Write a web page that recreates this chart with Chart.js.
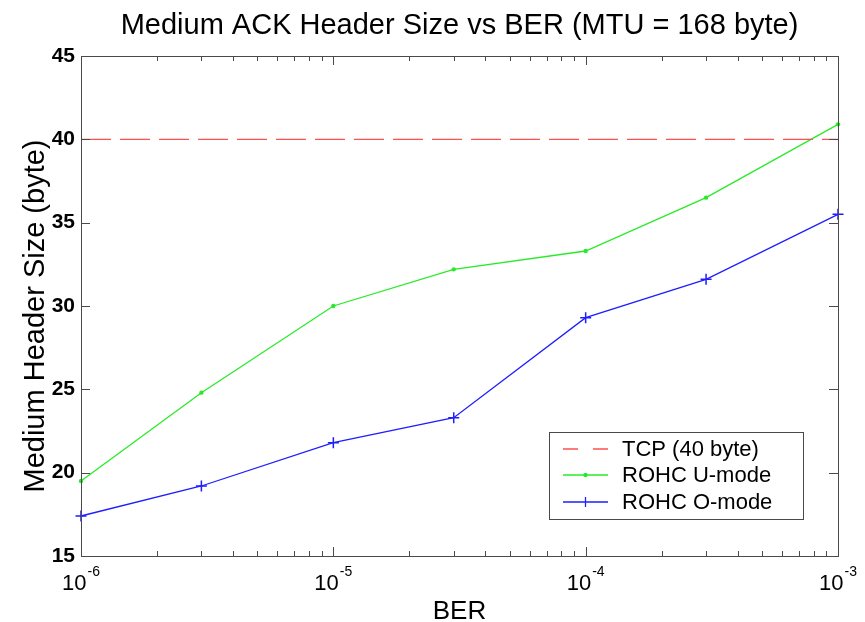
<!DOCTYPE html>
<html>
<head>
<meta charset="utf-8">
<script src="https://cdn.jsdelivr.net/npm/chart.js@4"></script>
<style>
  html, body { margin: 0; padding: 0; background: #fff; }
  #wrap { width: 865px; height: 622px; position: relative; }
</style>
</head>
<body>
<div id="wrap"><canvas id="c"></canvas></div>
<script>
const titleText = 'Medium ACK Header Size vs BER (MTU = 168 byte)';
const xTitle = 'BER';
const yTitle = 'Medium Header Size (byte)';
const ber = [1e-6, 3e-6, 1e-5, 3e-5, 1e-4, 3e-4, 1e-3];
const tcpValues = [40, 40, 40, 40, 40, 40, 40];
const uModeValues = [19.5, 24.8, 30.0, 32.2, 33.3, 36.5, 40.9];
const oModeValues = [17.4, 19.2, 21.8, 23.3, 29.3, 31.6, 35.5];
const seriesNames = ['TCP (40 byte)', 'ROHC U-mode', 'ROHC O-mode'];
const xDecades = [1e-6, 1e-5, 1e-4, 1e-3];
const xExponents = ['-6', '-5', '-4', '-3'];
const yTicks = [15, 20, 25, 30, 35, 40, 45];

const FONT = "'Liberation Sans', Arial, Helvetica, sans-serif";
const RED = 'rgb(255,80,80)';
const GREEN = 'rgb(40,235,40)';
const BLUE = 'rgb(30,30,255)';
const AXIS = '#4a4a4a';

const pts = (vals) => ber.map((b, i) => ({ x: b, y: vals[i] }));

const decor = {
  id: 'decor',
  afterDatasetsDraw(chart) {
    const { ctx, chartArea: a, scales } = chart;
    const xs = scales.x, ys = scales.y;
    ctx.save();
    ctx.strokeStyle = AXIS;
    ctx.lineWidth = 1;
    ctx.strokeRect(Math.round(a.left) + 0.5, Math.round(a.top) + 0.5,
                   Math.round(a.right - a.left), Math.round(a.bottom - a.top));
    yTicks.forEach(v => {
      const y = Math.round(ys.getPixelForValue(v)) + 0.5;
      ctx.beginPath();
      ctx.moveTo(a.left, y); ctx.lineTo(a.left + 9, y);
      ctx.moveTo(a.right, y); ctx.lineTo(a.right - 9, y);
      ctx.stroke();
    });
    for (let d = 0; d < xDecades.length; d++) {
      const base = xDecades[d];
      for (let k = 1; k <= 9; k++) {
        const v = base * k;
        if (v > xDecades[xDecades.length - 1] * 1.0001) break;
        const len = k === 1 ? 9 : 5;
        const x = Math.round(xs.getPixelForValue(v)) + 0.5;
        ctx.beginPath();
        ctx.moveTo(x, a.bottom); ctx.lineTo(x, a.bottom - len);
        ctx.moveTo(x, a.top); ctx.lineTo(x, a.top + len);
        ctx.stroke();
      }
    }
    ctx.restore();
  },
  afterDraw(chart) {
    const { ctx, chartArea: a, scales } = chart;
    const xs = scales.x;
    ctx.save();
    ctx.fillStyle = '#000';
    ctx.font = '29px ' + FONT;
    ctx.textAlign = 'center';
    ctx.textBaseline = 'alphabetic';
    ctx.fillText(titleText, (a.left + a.right) / 2, 34);
    ctx.font = '26px ' + FONT;
    ctx.fillText(xTitle, (a.left + a.right) / 2, 619);
    ctx.save();
    ctx.translate(44, 316);
    ctx.rotate(-Math.PI / 2);
    ctx.font = '29px ' + FONT;
    ctx.textAlign = 'center';
    ctx.fillText(yTitle, 0, 0);
    ctx.restore();
    xDecades.forEach((v, i) => {
      const x = xs.getPixelForValue(v);
      ctx.font = '22px ' + FONT;
      const w1 = ctx.measureText('10').width;
      ctx.font = '14px ' + FONT;
      const w2 = ctx.measureText(xExponents[i]).width;
      const start = x - (w1 + w2 + 1) / 2;
      ctx.textAlign = 'left';
      ctx.font = '22px ' + FONT;
      ctx.fillText('10', start, 590);
      ctx.font = '14px ' + FONT;
      ctx.fillText(xExponents[i], start + w1 + 1, 576);
    });
    const lx = 549, ly = 432, lw = 254, lh = 87;
    ctx.fillStyle = '#fff';
    ctx.fillRect(lx, ly, lw, lh);
    ctx.strokeStyle = AXIS;
    ctx.lineWidth = 1;
    ctx.strokeRect(lx + 0.5, ly + 0.5, lw, lh);
    const rows = [449, 475, 502];
    const colors = [RED, GREEN, BLUE];
    rows.forEach((ry, i) => {
      ctx.strokeStyle = colors[i];
      ctx.lineWidth = 1.3;
      ctx.beginPath();
      if (i === 0) ctx.setLineDash([15, 15]); else ctx.setLineDash([]);
      ctx.moveTo(563, ry); ctx.lineTo(608, ry);
      ctx.stroke();
      ctx.setLineDash([]);
      if (i === 1) {
        ctx.fillStyle = GREEN;
        ctx.beginPath(); ctx.arc(585.5, ry, 2.2, 0, Math.PI * 2); ctx.fill();
      }
      if (i === 2) {
        ctx.beginPath();
        ctx.moveTo(585.5, ry - 5); ctx.lineTo(585.5, ry + 5);
        ctx.stroke();
      }
      ctx.fillStyle = '#000';
      ctx.font = '22px ' + FONT;
      ctx.textAlign = 'left';
      ctx.textBaseline = 'middle';
      ctx.fillText(seriesNames[i], 622, ry + 1);
      ctx.textBaseline = 'alphabetic';
    });
    ctx.restore();
  }
};

new Chart(document.getElementById('c'), {
  type: 'line',
  data: {
    datasets: [
      { label: seriesNames[0], data: pts(tcpValues), borderColor: RED, borderWidth: 1.3,
        borderDash: [30, 9], pointRadius: 0, clip: false },
      { label: seriesNames[1], data: pts(uModeValues), borderColor: GREEN, backgroundColor: GREEN,
        borderWidth: 1.3, pointStyle: 'circle', pointRadius: 2.2, pointBorderWidth: 0, clip: false },
      { label: seriesNames[2], data: pts(oModeValues), borderColor: BLUE, backgroundColor: BLUE,
        borderWidth: 1.3, pointStyle: 'cross', pointRadius: 5.5, pointBorderWidth: 1.5, clip: false }
    ]
  },
  options: {
    responsive: true,
    maintainAspectRatio: false,
    animation: false,
    events: [],
    layout: { padding: { top: 56, right: 27, left: 0, bottom: 0 } },
    plugins: { legend: { display: false }, title: { display: false }, tooltip: { enabled: false } },
    scales: {
      x: {
        type: 'logarithmic', min: 1e-6, max: 1e-3,
        grid: { display: false, drawTicks: false }, border: { display: false },
        ticks: { display: false },
        afterFit(s) { s.height = 66; }
      },
      y: {
        type: 'linear', min: 15, max: 45,
        grid: { display: false, drawTicks: false }, border: { display: false },
        ticks: { stepSize: 5, padding: 6, color: '#000',
                 font: { family: FONT, size: 21, weight: 'bold' } },
        afterFit(s) { s.width = 81; }
      }
    }
  },
  plugins: [decor]
});
</script>
</body>
</html>
